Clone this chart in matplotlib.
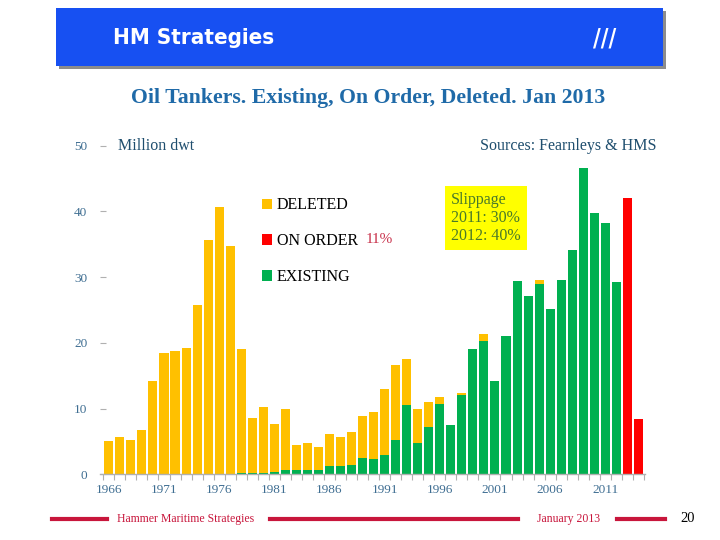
import matplotlib
matplotlib.use("Agg")
import matplotlib.pyplot as plt
from matplotlib.patches import Rectangle
import numpy as np

# data (million dwt)
years = list(range(1966, 2013))
existing = [0, 0, 0, 0, 0, 0, 0, 0.05, 0.1, 0.1, 0.1, 0.1, 0.2, 0.2, 0.25,
            0.4, 0.65, 0.65, 0.65, 0.65, 1.25, 1.3, 1.45, 2.5, 2.3, 2.9, 5.2,
            10.5, 4.8, 7.25, 10.7, 7.5, 12.0, 19.1, 20.3, 14.2, 21.0, 29.4,
            27.2, 29.0, 25.1, 29.5, 34.1, 46.6, 39.8, 38.2, 29.2]
deleted = [5.0, 5.6, 5.2, 6.8, 14.25, 18.5, 18.7, 19.15, 25.7, 35.6, 40.6,
           34.7, 18.9, 8.4, 9.95, 7.3, 9.35, 3.85, 4.15, 3.45, 4.85, 4.3,
           4.95, 6.4, 7.2, 10.1, 11.4, 7.1, 5.1, 3.8, 1.1, 0, 0.4, 0, 1.05,
           0, 0, 0, 0, 0.5, 0, 0, 0, 0, 0, 0, 0]
order_years = [2013, 2014]
on_order = [42.0, 8.4]
label_years = list(range(1966, 2012, 5))

YELLOW = "#FFC000"
GREEN = "#00B050"
RED = "#FF0000"
SERIF = ["Liberation Serif", "DejaVu Serif"]
NARROW = ["DejaVu Sans", "Liberation Sans"]

W, H = 720, 540
fig = plt.figure(figsize=(7.2, 5.4), dpi=100)


def fx(x):
    return x / W


def fy(y):
    return 1 - y / H


# header banner
fig.patches.append(Rectangle((fx(59), fy(69)), fx(607), 58 / H, transform=fig.transFigure,
                             facecolor="#8c8c8c", edgecolor="none"))
fig.patches.append(Rectangle((fx(56), fy(66)), fx(607), 58 / H, transform=fig.transFigure,
                             facecolor="#1750F2", edgecolor="none"))
fig.text(fx(113), fy(38), "HM Strategies", color="white", fontsize=16, fontweight="bold",
         family=NARROW, fontstretch="condensed", va="center", ha="left")
fig.text(fx(605), fy(38), "///", color="white", fontsize=17, fontweight="bold",
         family=NARROW, fontstretch="condensed", va="center", ha="center")

fig.text(fx(368), fy(98), "Oil Tankers. Existing, On Order, Deleted. Jan 2013",
         color="#1F6AA8", fontsize=15.7, fontweight="bold", family=SERIF,
         ha="center", va="center")

ax = fig.add_axes([fx(100), fy(474.3), fx(645) - fx(100), (474.3 - 145.7) / H])
b_ex = ax.bar(years, existing, width=0.82, color=GREEN)
b_del = ax.bar(years, deleted, width=0.82, bottom=existing, color=YELLOW)
b_ord = ax.bar(order_years, on_order, width=0.82, color=RED)

ax.set_xlim(1965.2, 2014.6)
ax.set_ylim(0, 50)
for s in ["top", "right", "left"]:
    ax.spines[s].set_visible(False)
ax.spines["bottom"].set_color("#b0b0b0")
ax.spines["bottom"].set_linewidth(1.0)

ax.set_yticks([0, 10, 20, 30, 40, 50])
ax.tick_params(axis="y", length=4, width=0.8, color="#b0b0b0", direction="in",
               pad=9, labelsize=9.5, labelcolor="#3F6E92")
ax.set_xticks(label_years)
ax.set_xticks(np.arange(1965.5, 2015, 1.0), minor=True)
ax.tick_params(axis="x", which="major", length=0, pad=7, labelsize=9.5,
               labelcolor="#3F6E92")
ax.tick_params(axis="x", which="minor", length=4, width=0.8, color="#b0b0b0")
for t in ax.get_xticklabels() + ax.get_yticklabels():
    t.set_family(SERIF)

ax_w = fx(645) - fx(100)
leg = ax.legend([b_del, b_ord, b_ex], ["DELETED", "ON ORDER", "EXISTING"],
                loc="upper left", bbox_to_anchor=(fx(248 - 100) / ax_w, 0.887),
                frameon=False, handlelength=0.6, handleheight=0.6, handletextpad=0.3,
                labelspacing=1.25, prop={"family": SERIF, "size": 11.5})
fig.text(fx(366), fy(239), "11%", color="#C8304A", fontsize=11, family=SERIF,
         ha="left", va="center")

fig.text(fx(118), fy(146), "Million dwt", color="#1F4E6E", fontsize=11.5,
         family=SERIF, ha="left", va="center")
fig.text(fx(657), fy(146), "Sources: Fearnleys & HMS", color="#1F4E6E", fontsize=11.5,
         family=SERIF, ha="right", va="center")

fig.text(fx(451), fy(218), "Slippage\n2011: 30%\n2012: 40%", color="#4A7A2A",
         fontsize=11.5, family=SERIF, ha="left", va="center", linespacing=1.15,
         bbox=dict(boxstyle="square,pad=0.4", facecolor="#FFFF00", edgecolor="none"))

# footer
CRIMSON = "#C8163C"
for x0, x1 in [(52, 107), (270, 518), (617, 665)]:
    fig.add_artist(plt.Line2D([fx(x0), fx(x1)], [fy(519), fy(519)], color=CRIMSON,
                              linewidth=3, transform=fig.transFigure))
fig.text(fx(117), fy(519), "Hammer Maritime Strategies", color=CRIMSON, fontsize=8.5,
         family=SERIF, ha="left", va="center")
fig.text(fx(537), fy(519), "January 2013", color=CRIMSON, fontsize=8.5,
         family=SERIF, ha="left", va="center")
fig.text(fx(680), fy(519), "20", color="black", fontsize=10.5,
         family=SERIF, ha="left", va="center")

fig.savefig("out.png", dpi=100)
